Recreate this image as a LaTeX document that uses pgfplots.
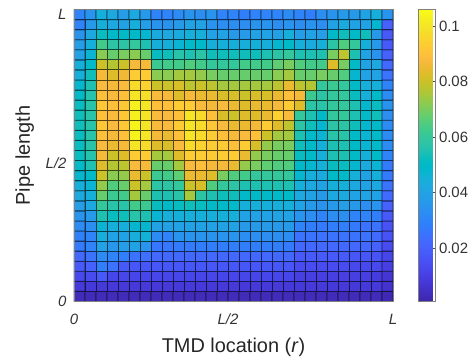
\documentclass[border=0pt]{standalone}
\usepackage{fontspec}
\setmainfont{Liberation Sans}
\usepackage{pgfplots}
\pgfplotsset{compat=1.18}
\pgfplotsset{colormap={parula}{
rgb=(0.2422,0.1504,0.6603) rgb=(0.2504,0.1650,0.7076) rgb=(0.2578,0.1818,0.7511) rgb=(0.2647,0.1978,0.7952)
rgb=(0.2706,0.2147,0.8364) rgb=(0.2751,0.2342,0.8710) rgb=(0.2783,0.2559,0.8991) rgb=(0.2803,0.2782,0.9221)
rgb=(0.2813,0.3006,0.9414) rgb=(0.2810,0.3228,0.9579) rgb=(0.2795,0.3447,0.9717) rgb=(0.2760,0.3667,0.9829)
rgb=(0.2699,0.3892,0.9906) rgb=(0.2602,0.4123,0.9952) rgb=(0.2440,0.4358,0.9988) rgb=(0.2206,0.4603,0.9973)
rgb=(0.1963,0.4847,0.9892) rgb=(0.1834,0.5074,0.9798) rgb=(0.1786,0.5289,0.9682) rgb=(0.1764,0.5499,0.9520)
rgb=(0.1687,0.5703,0.9359) rgb=(0.1540,0.5902,0.9218) rgb=(0.1460,0.6091,0.9079) rgb=(0.1380,0.6276,0.8973)
rgb=(0.1248,0.6459,0.8883) rgb=(0.1113,0.6635,0.8763) rgb=(0.0952,0.6798,0.8598) rgb=(0.0689,0.6948,0.8394)
rgb=(0.0297,0.7082,0.8163) rgb=(0.0036,0.7203,0.7917) rgb=(0.0067,0.7312,0.7660) rgb=(0.0433,0.7411,0.7394)
rgb=(0.0964,0.7500,0.7120) rgb=(0.1408,0.7584,0.6842) rgb=(0.1717,0.7670,0.6554) rgb=(0.1938,0.7758,0.6251)
rgb=(0.2161,0.7843,0.5923) rgb=(0.2470,0.7918,0.5567) rgb=(0.2906,0.7973,0.5188) rgb=(0.3406,0.8008,0.4789)
rgb=(0.3909,0.8029,0.4354) rgb=(0.4456,0.8024,0.3909) rgb=(0.5044,0.7993,0.3480) rgb=(0.5616,0.7942,0.3045)
rgb=(0.6174,0.7876,0.2612) rgb=(0.6720,0.7793,0.2227) rgb=(0.7242,0.7698,0.1910) rgb=(0.7738,0.7598,0.1646)
rgb=(0.8203,0.7498,0.1535) rgb=(0.8634,0.7406,0.1596) rgb=(0.9035,0.7330,0.1774) rgb=(0.9393,0.7288,0.2100)
rgb=(0.9728,0.7298,0.2394) rgb=(0.9956,0.7434,0.2371) rgb=(0.9970,0.7659,0.2199) rgb=(0.9952,0.7893,0.2028)
rgb=(0.9892,0.8136,0.1885) rgb=(0.9786,0.8386,0.1766) rgb=(0.9676,0.8639,0.1643) rgb=(0.9610,0.8890,0.1537)
rgb=(0.9597,0.9135,0.1423) rgb=(0.9628,0.9373,0.1265) rgb=(0.9691,0.9606,0.1064) rgb=(0.9769,0.9839,0.0805)
}}
\begin{document}
\begin{tikzpicture}
\useasboundingbox (-74bp,-61.5bp) rectangle (394bp,301.5bp);
\begin{axis}[
  at={(0,0)}, anchor=south west,
  scale only axis, width=319bp, height=292bp,
  xmin=-0.5, xmax=28.5, ymin=-0.5, ymax=28.5,
  enlargelimits=false, axis on top,
  axis line style={draw=gray},
  major tick length=0pt,
  xtick={-0.5,13.5,28.5}, xticklabels={\textit{0},\textit{L/2},\textit{L}},
  ytick={0,14.8,28.5}, yticklabels={\textit{L},\textit{L/2},\textit{0}},
  tick label style={font=\fontsize{15}{18}\selectfont, text=black!80},
  xticklabel style={yshift=-9bp},
  yticklabel style={xshift=-4bp},
  xlabel={TMD location (\textit{r})}, ylabel={Pipe length},
  label style={font=\fontsize{20}{24}\selectfont, text=black!85},
  xlabel style={at={(axis description cs:0.5,-0.1753)}, anchor=base},
  ylabel style={at={(axis description cs:-0.138,0.5)}, anchor=base},
  colormap name=parula,
  point meta min=0.0007, point meta max=0.106,
  colorbar,
  colorbar style={
    at={(parent axis.north east)}, anchor=north west, xshift=17bp,
    width=17bp,
    axis line style={draw=gray},
    ytick={0.02,0.04,0.06,0.08,0.1},
    ytick pos=right, tick align=inside,
    major tick length=3bp, tick style={draw=black!70},
    yticklabel style={font=\fontsize{15}{18}\selectfont, text=black!80,
      /pgf/number format/fixed, /pgf/number format/precision=2,
      /pgf/number format/assume math mode=true},
  },
]
\addplot[matrix plot, shader=faceted, faceted color=mapped color!35!black, line width=0.9bp,
  mesh/cols=29, point meta=explicit] table[row sep=\\, meta=c, y expr=28-\thisrow{y}] {
x y c\\
0 0 0.003\\ 1 0 0.003\\ 2 0 0.003\\ 3 0 0.003\\ 4 0 0.003\\ 5 0 0.003\\ 6 0 0.003\\ 7 0 0.003\\ 8 0 0.003\\ 9 0 0.003\\ 10 0 0.003\\ 11 0 0.003\\ 12 0 0.003\\ 13 0 0.003\\ 14 0 0.003\\ 15 0 0.003\\ 16 0 0.003\\ 17 0 0.003\\ 18 0 0.003\\ 19 0 0.003\\ 20 0 0.003\\ 21 0 0.003\\ 22 0 0.003\\ 23 0 0.003\\ 24 0 0.003\\ 25 0 0.003\\ 26 0 0.003\\ 27 0 0.003\\ 28 0 0.002\\
0 1 0.008\\ 1 1 0.008\\ 2 1 0.008\\ 3 1 0.008\\ 4 1 0.008\\ 5 1 0.008\\ 6 1 0.008\\ 7 1 0.008\\ 8 1 0.008\\ 9 1 0.008\\ 10 1 0.008\\ 11 1 0.008\\ 12 1 0.008\\ 13 1 0.008\\ 14 1 0.008\\ 15 1 0.008\\ 16 1 0.008\\ 17 1 0.008\\ 18 1 0.008\\ 19 1 0.008\\ 20 1 0.008\\ 21 1 0.008\\ 22 1 0.008\\ 23 1 0.008\\ 24 1 0.008\\ 25 1 0.008\\ 26 1 0.008\\ 27 1 0.008\\ 28 1 0.006\\
0 2 0.013\\ 1 2 0.014\\ 2 2 0.018\\ 3 2 0.012\\ 4 2 0.012\\ 5 2 0.012\\ 6 2 0.012\\ 7 2 0.012\\ 8 2 0.012\\ 9 2 0.012\\ 10 2 0.012\\ 11 2 0.012\\ 12 2 0.012\\ 13 2 0.012\\ 14 2 0.012\\ 15 2 0.012\\ 16 2 0.012\\ 17 2 0.012\\ 18 2 0.012\\ 19 2 0.012\\ 20 2 0.010\\ 21 2 0.010\\ 22 2 0.010\\ 23 2 0.010\\ 24 2 0.010\\ 25 2 0.010\\ 26 2 0.010\\ 27 2 0.009\\ 28 2 0.007\\
0 3 0.018\\ 1 3 0.020\\ 2 3 0.028\\ 3 3 0.025\\ 4 3 0.018\\ 5 3 0.017\\ 6 3 0.017\\ 7 3 0.017\\ 8 3 0.017\\ 9 3 0.017\\ 10 3 0.017\\ 11 3 0.017\\ 12 3 0.017\\ 13 3 0.017\\ 14 3 0.017\\ 15 3 0.017\\ 16 3 0.017\\ 17 3 0.017\\ 18 3 0.017\\ 19 3 0.017\\ 20 3 0.014\\ 21 3 0.014\\ 22 3 0.014\\ 23 3 0.014\\ 24 3 0.014\\ 25 3 0.013\\ 26 3 0.013\\ 27 3 0.013\\ 28 3 0.010\\
0 4 0.022\\ 1 4 0.025\\ 2 4 0.032\\ 3 4 0.030\\ 4 4 0.028\\ 5 4 0.025\\ 6 4 0.024\\ 7 4 0.022\\ 8 4 0.022\\ 9 4 0.022\\ 10 4 0.022\\ 11 4 0.022\\ 12 4 0.022\\ 13 4 0.022\\ 14 4 0.022\\ 15 4 0.022\\ 16 4 0.022\\ 17 4 0.022\\ 18 4 0.022\\ 19 4 0.022\\ 20 4 0.018\\ 21 4 0.018\\ 22 4 0.018\\ 23 4 0.018\\ 24 4 0.018\\ 25 4 0.017\\ 26 4 0.017\\ 27 4 0.016\\ 28 4 0.012\\
0 5 0.027\\ 1 5 0.030\\ 2 5 0.040\\ 3 5 0.036\\ 4 5 0.038\\ 5 5 0.040\\ 6 5 0.035\\ 7 5 0.026\\ 8 5 0.026\\ 9 5 0.027\\ 10 5 0.027\\ 11 5 0.028\\ 12 5 0.028\\ 13 5 0.028\\ 14 5 0.028\\ 15 5 0.028\\ 16 5 0.028\\ 17 5 0.028\\ 18 5 0.028\\ 19 5 0.027\\ 20 5 0.022\\ 21 5 0.022\\ 22 5 0.022\\ 23 5 0.022\\ 24 5 0.022\\ 25 5 0.022\\ 26 5 0.022\\ 27 5 0.020\\ 28 5 0.014\\
0 6 0.029\\ 1 6 0.030\\ 2 6 0.044\\ 3 6 0.040\\ 4 6 0.040\\ 5 6 0.044\\ 6 6 0.046\\ 7 6 0.032\\ 8 6 0.030\\ 9 6 0.035\\ 10 6 0.035\\ 11 6 0.035\\ 12 6 0.035\\ 13 6 0.035\\ 14 6 0.035\\ 15 6 0.033\\ 16 6 0.033\\ 17 6 0.033\\ 18 6 0.033\\ 19 6 0.033\\ 20 6 0.025\\ 21 6 0.025\\ 22 6 0.025\\ 23 6 0.025\\ 24 6 0.025\\ 25 6 0.025\\ 26 6 0.025\\ 27 6 0.023\\ 28 6 0.016\\
0 7 0.032\\ 1 7 0.033\\ 2 7 0.047\\ 3 7 0.045\\ 4 7 0.045\\ 5 7 0.048\\ 6 7 0.048\\ 7 7 0.040\\ 8 7 0.040\\ 9 7 0.040\\ 10 7 0.040\\ 11 7 0.040\\ 12 7 0.040\\ 13 7 0.040\\ 14 7 0.040\\ 15 7 0.037\\ 16 7 0.037\\ 17 7 0.037\\ 18 7 0.037\\ 19 7 0.037\\ 20 7 0.030\\ 21 7 0.028\\ 22 7 0.027\\ 23 7 0.028\\ 24 7 0.028\\ 25 7 0.027\\ 26 7 0.025\\ 27 7 0.025\\ 28 7 0.016\\
0 8 0.035\\ 1 8 0.037\\ 2 8 0.055\\ 3 8 0.052\\ 4 8 0.053\\ 5 8 0.057\\ 6 8 0.055\\ 7 8 0.047\\ 8 8 0.045\\ 9 8 0.045\\ 10 8 0.045\\ 11 8 0.045\\ 12 8 0.045\\ 13 8 0.045\\ 14 8 0.045\\ 15 8 0.040\\ 16 8 0.040\\ 17 8 0.040\\ 18 8 0.040\\ 19 8 0.040\\ 20 8 0.035\\ 21 8 0.033\\ 22 8 0.030\\ 23 8 0.033\\ 24 8 0.033\\ 25 8 0.030\\ 26 8 0.030\\ 27 8 0.028\\ 28 8 0.018\\
0 9 0.038\\ 1 9 0.042\\ 2 9 0.060\\ 3 9 0.057\\ 4 9 0.057\\ 5 9 0.063\\ 6 9 0.062\\ 7 9 0.052\\ 8 9 0.050\\ 9 9 0.052\\ 10 9 0.053\\ 11 9 0.052\\ 12 9 0.050\\ 13 9 0.050\\ 14 9 0.050\\ 15 9 0.045\\ 16 9 0.045\\ 17 9 0.045\\ 18 9 0.045\\ 19 9 0.045\\ 20 9 0.040\\ 21 9 0.037\\ 22 9 0.035\\ 23 9 0.037\\ 24 9 0.038\\ 25 9 0.037\\ 26 9 0.033\\ 27 9 0.035\\ 28 9 0.020\\
0 10 0.042\\ 1 10 0.045\\ 2 10 0.068\\ 3 10 0.062\\ 4 10 0.063\\ 5 10 0.075\\ 6 10 0.068\\ 7 10 0.055\\ 8 10 0.055\\ 9 10 0.057\\ 10 10 0.075\\ 11 10 0.058\\ 12 10 0.055\\ 13 10 0.053\\ 14 10 0.053\\ 15 10 0.050\\ 16 10 0.050\\ 17 10 0.050\\ 18 10 0.050\\ 19 10 0.050\\ 20 10 0.042\\ 21 10 0.040\\ 22 10 0.037\\ 23 10 0.042\\ 24 10 0.042\\ 25 10 0.040\\ 26 10 0.040\\ 27 10 0.040\\ 28 10 0.023\\
0 11 0.045\\ 1 11 0.047\\ 2 11 0.073\\ 3 11 0.065\\ 4 11 0.068\\ 5 11 0.080\\ 6 11 0.075\\ 7 11 0.058\\ 8 11 0.058\\ 9 11 0.060\\ 10 11 0.080\\ 11 11 0.082\\ 12 11 0.065\\ 13 11 0.060\\ 14 11 0.058\\ 15 11 0.055\\ 16 11 0.055\\ 17 11 0.055\\ 18 11 0.055\\ 19 11 0.055\\ 20 11 0.045\\ 21 11 0.042\\ 22 11 0.040\\ 23 11 0.045\\ 24 11 0.045\\ 25 11 0.042\\ 26 11 0.040\\ 27 11 0.042\\ 28 11 0.025\\
0 12 0.048\\ 1 12 0.050\\ 2 12 0.080\\ 3 12 0.072\\ 4 12 0.073\\ 5 12 0.085\\ 6 12 0.080\\ 7 12 0.062\\ 8 12 0.063\\ 9 12 0.067\\ 10 12 0.085\\ 11 12 0.085\\ 12 12 0.083\\ 13 12 0.070\\ 14 12 0.065\\ 15 12 0.063\\ 16 12 0.060\\ 17 12 0.060\\ 18 12 0.060\\ 19 12 0.060\\ 20 12 0.048\\ 21 12 0.045\\ 22 12 0.043\\ 23 12 0.050\\ 24 12 0.050\\ 25 12 0.045\\ 26 12 0.040\\ 27 12 0.045\\ 28 12 0.027\\
0 13 0.050\\ 1 13 0.055\\ 2 13 0.083\\ 3 13 0.077\\ 4 13 0.078\\ 5 13 0.088\\ 6 13 0.087\\ 7 13 0.068\\ 8 13 0.068\\ 9 13 0.075\\ 10 13 0.088\\ 11 13 0.090\\ 12 13 0.087\\ 13 13 0.087\\ 14 13 0.085\\ 15 13 0.073\\ 16 13 0.070\\ 17 13 0.067\\ 18 13 0.065\\ 19 13 0.065\\ 20 13 0.050\\ 21 13 0.048\\ 22 13 0.045\\ 23 13 0.052\\ 24 13 0.052\\ 25 13 0.048\\ 26 13 0.043\\ 27 13 0.047\\ 28 13 0.027\\
0 14 0.052\\ 1 14 0.056\\ 2 14 0.087\\ 3 14 0.080\\ 4 14 0.083\\ 5 14 0.093\\ 6 14 0.093\\ 7 14 0.075\\ 8 14 0.075\\ 9 14 0.083\\ 10 14 0.093\\ 11 14 0.093\\ 12 14 0.093\\ 13 14 0.093\\ 14 14 0.093\\ 15 14 0.085\\ 16 14 0.073\\ 17 14 0.070\\ 18 14 0.068\\ 19 14 0.068\\ 20 14 0.052\\ 21 14 0.050\\ 22 14 0.045\\ 23 14 0.055\\ 24 14 0.055\\ 25 14 0.050\\ 26 14 0.045\\ 27 14 0.050\\ 28 14 0.030\\
0 15 0.052\\ 1 15 0.057\\ 2 15 0.088\\ 3 15 0.085\\ 4 15 0.087\\ 5 15 0.100\\ 6 15 0.097\\ 7 15 0.083\\ 8 15 0.082\\ 9 15 0.088\\ 10 15 0.097\\ 11 15 0.095\\ 12 15 0.093\\ 13 15 0.093\\ 14 15 0.090\\ 15 15 0.093\\ 16 15 0.082\\ 17 15 0.073\\ 18 15 0.070\\ 19 15 0.070\\ 20 15 0.053\\ 21 15 0.050\\ 22 15 0.045\\ 23 15 0.055\\ 24 15 0.055\\ 25 15 0.050\\ 26 15 0.047\\ 27 15 0.050\\ 28 15 0.032\\
0 16 0.052\\ 1 16 0.057\\ 2 16 0.090\\ 3 16 0.087\\ 4 16 0.090\\ 5 16 0.104\\ 6 16 0.100\\ 7 16 0.087\\ 8 16 0.085\\ 9 16 0.090\\ 10 16 0.100\\ 11 16 0.097\\ 12 16 0.093\\ 13 16 0.090\\ 14 16 0.087\\ 15 16 0.088\\ 16 16 0.090\\ 17 16 0.080\\ 18 16 0.075\\ 19 16 0.075\\ 20 16 0.055\\ 21 16 0.050\\ 22 16 0.047\\ 23 16 0.057\\ 24 16 0.057\\ 25 16 0.050\\ 26 16 0.047\\ 27 16 0.050\\ 28 16 0.032\\
0 17 0.053\\ 1 17 0.057\\ 2 17 0.092\\ 3 17 0.088\\ 4 17 0.092\\ 5 17 0.104\\ 6 17 0.100\\ 7 17 0.088\\ 8 17 0.088\\ 9 17 0.093\\ 10 17 0.100\\ 11 17 0.097\\ 12 17 0.092\\ 13 17 0.088\\ 14 17 0.085\\ 15 17 0.085\\ 16 17 0.087\\ 17 17 0.093\\ 18 17 0.083\\ 19 17 0.078\\ 20 17 0.058\\ 21 17 0.053\\ 22 17 0.048\\ 23 17 0.058\\ 24 17 0.058\\ 25 17 0.053\\ 26 17 0.048\\ 27 17 0.050\\ 28 17 0.032\\
0 18 0.053\\ 1 18 0.057\\ 2 18 0.090\\ 3 18 0.088\\ 4 18 0.092\\ 5 18 0.103\\ 6 18 0.100\\ 7 18 0.088\\ 8 18 0.088\\ 9 18 0.090\\ 10 18 0.100\\ 11 18 0.097\\ 12 18 0.090\\ 13 18 0.082\\ 14 18 0.080\\ 15 18 0.083\\ 16 18 0.083\\ 17 18 0.085\\ 18 18 0.095\\ 19 18 0.088\\ 20 18 0.060\\ 21 18 0.055\\ 22 18 0.050\\ 23 18 0.060\\ 24 18 0.060\\ 25 18 0.055\\ 26 18 0.050\\ 27 18 0.053\\ 28 18 0.033\\
0 19 0.052\\ 1 19 0.057\\ 2 19 0.092\\ 3 19 0.090\\ 4 19 0.092\\ 5 19 0.103\\ 6 19 0.100\\ 7 19 0.090\\ 8 19 0.090\\ 9 19 0.093\\ 10 19 0.093\\ 11 19 0.088\\ 12 19 0.087\\ 13 19 0.088\\ 14 19 0.085\\ 15 19 0.083\\ 16 19 0.085\\ 17 19 0.085\\ 18 19 0.087\\ 19 19 0.093\\ 20 19 0.083\\ 21 19 0.058\\ 22 19 0.057\\ 23 19 0.060\\ 24 19 0.060\\ 25 19 0.055\\ 26 19 0.048\\ 27 19 0.052\\ 28 19 0.035\\
0 20 0.050\\ 1 20 0.056\\ 2 20 0.090\\ 3 20 0.088\\ 4 20 0.090\\ 5 20 0.100\\ 6 20 0.098\\ 7 20 0.088\\ 8 20 0.087\\ 9 20 0.083\\ 10 20 0.087\\ 11 20 0.085\\ 12 20 0.085\\ 13 20 0.082\\ 14 20 0.082\\ 15 20 0.080\\ 16 20 0.082\\ 17 20 0.082\\ 18 20 0.085\\ 19 20 0.090\\ 20 20 0.087\\ 21 20 0.062\\ 22 20 0.058\\ 23 20 0.060\\ 24 20 0.060\\ 25 20 0.052\\ 26 20 0.045\\ 27 20 0.050\\ 28 20 0.032\\
0 21 0.048\\ 1 21 0.055\\ 2 21 0.088\\ 3 21 0.087\\ 4 21 0.088\\ 5 21 0.097\\ 6 21 0.095\\ 7 21 0.080\\ 8 21 0.080\\ 9 21 0.082\\ 10 21 0.078\\ 11 21 0.080\\ 12 21 0.078\\ 13 21 0.075\\ 14 21 0.075\\ 15 21 0.075\\ 16 21 0.075\\ 17 21 0.075\\ 18 21 0.078\\ 19 21 0.085\\ 20 21 0.078\\ 21 21 0.077\\ 22 21 0.060\\ 23 21 0.062\\ 24 21 0.060\\ 25 21 0.050\\ 26 21 0.045\\ 27 21 0.045\\ 28 21 0.030\\
0 22 0.045\\ 1 22 0.053\\ 2 22 0.087\\ 3 22 0.083\\ 4 22 0.086\\ 5 22 0.093\\ 6 22 0.093\\ 7 22 0.072\\ 8 22 0.072\\ 9 22 0.075\\ 10 22 0.075\\ 11 22 0.073\\ 12 22 0.070\\ 13 22 0.068\\ 14 22 0.068\\ 15 22 0.068\\ 16 22 0.068\\ 17 22 0.068\\ 18 22 0.072\\ 19 22 0.075\\ 20 22 0.068\\ 21 22 0.068\\ 22 22 0.070\\ 23 22 0.068\\ 24 22 0.065\\ 25 22 0.048\\ 26 22 0.040\\ 27 22 0.040\\ 28 22 0.025\\
0 23 0.045\\ 1 23 0.050\\ 2 23 0.080\\ 3 23 0.077\\ 4 23 0.080\\ 5 23 0.087\\ 6 23 0.087\\ 7 23 0.062\\ 8 23 0.063\\ 9 23 0.063\\ 10 23 0.065\\ 11 23 0.063\\ 12 23 0.060\\ 13 23 0.060\\ 14 23 0.060\\ 15 23 0.063\\ 16 23 0.063\\ 17 23 0.063\\ 18 23 0.067\\ 19 23 0.070\\ 20 23 0.065\\ 21 23 0.063\\ 22 23 0.063\\ 23 23 0.083\\ 24 23 0.070\\ 25 23 0.050\\ 26 23 0.040\\ 27 23 0.042\\ 28 23 0.022\\
0 24 0.040\\ 1 24 0.047\\ 2 24 0.072\\ 3 24 0.068\\ 4 24 0.070\\ 5 24 0.072\\ 6 24 0.068\\ 7 24 0.052\\ 8 24 0.053\\ 9 24 0.057\\ 10 24 0.055\\ 11 24 0.058\\ 12 24 0.053\\ 13 24 0.053\\ 14 24 0.053\\ 15 24 0.053\\ 16 24 0.053\\ 17 24 0.055\\ 18 24 0.058\\ 19 24 0.060\\ 20 24 0.055\\ 21 24 0.055\\ 22 24 0.055\\ 23 24 0.070\\ 24 24 0.078\\ 25 24 0.055\\ 26 24 0.040\\ 27 24 0.035\\ 28 24 0.020\\
0 25 0.038\\ 1 25 0.045\\ 2 25 0.063\\ 3 25 0.058\\ 4 25 0.058\\ 5 25 0.060\\ 6 25 0.055\\ 7 25 0.045\\ 8 25 0.045\\ 9 25 0.047\\ 10 25 0.050\\ 11 25 0.050\\ 12 25 0.045\\ 13 25 0.045\\ 14 25 0.045\\ 15 25 0.045\\ 16 25 0.045\\ 17 25 0.045\\ 18 25 0.048\\ 19 25 0.050\\ 20 25 0.045\\ 21 25 0.043\\ 22 25 0.045\\ 23 25 0.058\\ 24 25 0.065\\ 25 25 0.060\\ 26 25 0.045\\ 27 25 0.037\\ 28 25 0.018\\
0 26 0.035\\ 1 26 0.042\\ 2 26 0.052\\ 3 26 0.050\\ 4 26 0.050\\ 5 26 0.050\\ 6 26 0.048\\ 7 26 0.043\\ 8 26 0.042\\ 9 26 0.043\\ 10 26 0.045\\ 11 26 0.045\\ 12 26 0.040\\ 13 26 0.040\\ 14 26 0.037\\ 15 26 0.037\\ 16 26 0.040\\ 17 26 0.040\\ 18 26 0.040\\ 19 26 0.045\\ 20 26 0.038\\ 21 26 0.040\\ 22 26 0.038\\ 23 26 0.050\\ 24 26 0.053\\ 25 26 0.050\\ 26 26 0.053\\ 27 26 0.037\\ 28 26 0.018\\
0 27 0.030\\ 1 27 0.037\\ 2 27 0.045\\ 3 27 0.042\\ 4 27 0.040\\ 5 27 0.045\\ 6 27 0.038\\ 7 27 0.035\\ 8 27 0.035\\ 9 27 0.037\\ 10 27 0.040\\ 11 27 0.040\\ 12 27 0.035\\ 13 27 0.033\\ 14 27 0.033\\ 15 27 0.033\\ 16 27 0.035\\ 17 27 0.035\\ 18 27 0.033\\ 19 27 0.035\\ 20 27 0.033\\ 21 27 0.035\\ 22 27 0.033\\ 23 27 0.040\\ 24 27 0.043\\ 25 27 0.040\\ 26 27 0.040\\ 27 27 0.048\\ 28 27 0.020\\
0 28 0.030\\ 1 28 0.035\\ 2 28 0.045\\ 3 28 0.042\\ 4 28 0.038\\ 5 28 0.042\\ 6 28 0.037\\ 7 28 0.030\\ 8 28 0.030\\ 9 28 0.032\\ 10 28 0.035\\ 11 28 0.033\\ 12 28 0.035\\ 13 28 0.030\\ 14 28 0.030\\ 15 28 0.028\\ 16 28 0.030\\ 17 28 0.030\\ 18 28 0.030\\ 19 28 0.032\\ 20 28 0.030\\ 21 28 0.028\\ 22 28 0.033\\ 23 28 0.035\\ 24 28 0.037\\ 25 28 0.037\\ 26 28 0.040\\ 27 28 0.045\\ 28 28 0.035\\
};
\end{axis}
\end{tikzpicture}
\end{document}
